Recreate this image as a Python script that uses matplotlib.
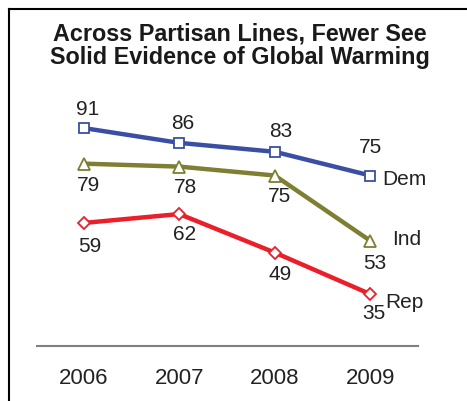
import matplotlib
matplotlib.use("Agg")
import matplotlib.pyplot as plt
from matplotlib.lines import Line2D

plt.rcParams['font.family'] = ['Liberation Sans', 'DejaVu Sans']

years = [2006, 2007, 2008, 2009]
dem = [91, 86, 83, 75]
ind = [79, 78, 75, 53]
rep = [59, 62, 49, 35]
series_names = ['Dem', 'Ind', 'Rep']
title = "Across Partisan Lines, Fewer See\nSolid Evidence of Global Warming"

c_dem = '#3a4fa3'
c_ind = '#7e7f32'
c_rep = '#ea1f29'

fig = plt.figure(figsize=(4.67, 4.02), dpi=100)
# frame
fig.add_artist(Line2D([9/467, 9/467], [0, 1 - 10/402], color='black', lw=1.5, transform=fig.transFigure))
fig.add_artist(Line2D([9/467, 1], [1 - 10/402, 1 - 10/402], color='black', lw=1.5, transform=fig.transFigure))

fig.text(240/467, 1 - 45.5/402, title, ha='center', va='center', fontsize=16.8, fontweight='bold',
         linespacing=1.05, color='#1a1a1a')

ax = fig.add_axes([37/467, (402-347)/402, 381/467, 247/402])
ax.set_xlim(2005.51, 2009.50)
ax.set_ylim(17.5, 100.8)
for s in ['top', 'right', 'left']:
    ax.spines[s].set_visible(False)
ax.spines['bottom'].set_color('#808080')
ax.spines['bottom'].set_linewidth(1.5)
ax.set_yticks([])
ax.set_xticks(years)
ax.set_xticklabels([str(y) for y in years], fontsize=16, color='#222222')
ax.tick_params(axis='x', length=0, pad=15)

ax.plot(years, dem, color=c_dem, lw=3.2, marker='s', ms=6.5, mfc='white', mec=c_dem, mew=1.3, clip_on=False)
ax.plot(years, ind, color=c_ind, lw=3.2, marker='^', ms=8, mfc='white', mec=c_ind, mew=1.3, clip_on=False)
ax.plot(years, rep, color=c_rep, lw=3.2, marker='D', ms=6, mfc='white', mec=c_rep, mew=1.3, clip_on=False)

fs = 15
tc = '#222222'
# value labels (offsets in points)
dem_off = [(3, 14.2), (2.7, 14.6), (4, 15.1), (0.5, 20.9)]
ind_off = [(3.6, -15.1), (4.8, -14.6), (3.2, -14.4), (3.6, -15.8)]
rep_off = [(4.3, -16.3), (3.6, -13.9), (3.6, -15.3), (2.7, -13.5)]
for vals, offs in [(dem, dem_off), (ind, ind_off), (rep, rep_off)]:
    for x, v, o in zip(years, vals, offs):
        ax.annotate(str(v), (x, v), xytext=o, textcoords='offset points',
                    ha='center', va='center', fontsize=fs, color=tc)

name_off = [(8.9, -2.2), (15.8, 1.5), (10.8, -5.5)]
for name, vals, o in zip(series_names, [dem, ind, rep], name_off):
    ax.annotate(name, (years[-1], vals[-1]), xytext=o, textcoords='offset points',
                ha='left', va='center', fontsize=fs, color=tc)

fig.savefig('out.png', dpi=100)
